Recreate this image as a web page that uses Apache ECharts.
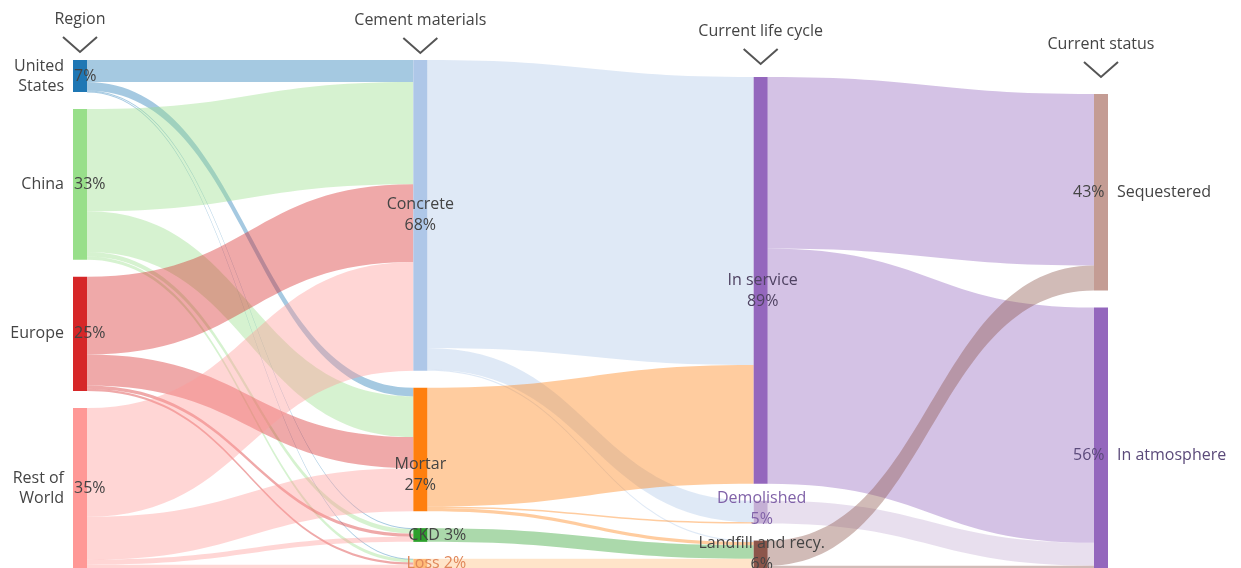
<!DOCTYPE html>
<html>
<head>
<meta charset="utf-8">
<script src="https://cdn.jsdelivr.net/npm/echarts@6/dist/echarts.min.js"></script>
<style>
  html, body { margin: 0; padding: 0; background: #fff; }
  #chart { width: 1241px; height: 568px; }
</style>
</head>
<body>
<div id="chart"></div>
<script>
// columns of the diagram
var columnTitles = ['Region', 'Cement materials', 'Current life cycle', 'Current status'];

var regions = ['United States', 'China', 'Europe', 'Rest of World'];
var regionNames = ['United\nStates', 'China', 'Europe', 'Rest of\nWorld'];
var regionShares = ['7%', '33%', '25%', '35%'];

var materials = ['Concrete', 'Mortar', 'CKD', 'Loss'];
var materialShares = ['68%', '27%', '3%', '2%'];

var lifeCycles = ['In service', 'Demolished', 'Landfill and recy.'];
var lifeShares = ['89%', '5%', '6%'];

var statuses = ['Sequestered', 'In atmosphere'];
var statusShares = ['43%', '56%'];

// flows, in % of total; rows = source, columns = target
var regionToMaterial = [
  [4.8, 1.9, 0.2, 0.1],
  [22.4, 8.9, 1.0, 0.7],
  [17.0, 6.8, 0.7, 0.5],
  [23.8, 9.4, 1.1, 0.7]
];
var materialToLife = [
  [63.0, 4.7, 0.3],
  [26.0, 0.3, 0.7],
  [0, 0, 3.0],
  [0, 0, 2.0]
];
var lifeToStatus = [
  [37.5, 51.5],
  [0, 5.0],
  [5.5, 0.5]
];

var nodeColors = {
  'United States': '#1f77b4', 'China': '#98df8a', 'Europe': '#d62728', 'Rest of World': '#ff9896',
  'Concrete': '#aec7e8', 'Mortar': '#ff7f0e', 'CKD': '#2ca02c', 'Loss': '#ffbb78',
  'In service': '#9467bd', 'Demolished': '#c5b0d5', 'Landfill and recy.': '#8c564b',
  'Sequestered': '#c49c94', 'In atmosphere': '#9467bd'
};
var labelColors = {
  'Demolished': '#8062a8', 'Loss': '#e0875a', 'In atmosphere': '#5b4a7a', 'In service': '#4f4262'
};
var labelOffsets = {
  'Mortar': [0, 25], 'CKD': [17, 0], 'Loss': [16, 0],
  'In service': [2, 11], 'Demolished': [1, -3], 'Landfill and recy.': [1, 0],
  'Sequestered': [-21, 0], 'In atmosphere': [-21, 18]
};

var FONT = '"Open Sans", "Noto Sans", sans-serif';

var nodes = [];
function addNodes(names, shares, kind) {
  names.forEach(function (n, i) {
    var lbl;
    if (kind === 'region') {
      lbl = { position: 'insideLeft', distance: 1, formatter: shares[i] };
    } else if (kind === 'status') {
      lbl = { position: 'insideLeft', distance: 0, formatter: shares[i] + '   ' + n };
    } else if (n === 'CKD' || n === 'Loss') {
      lbl = { position: 'inside', formatter: n + ' ' + shares[i] };
    } else {
      lbl = { position: 'inside', formatter: n + '\n' + shares[i] };
    }
    lbl.offset = labelOffsets[n] || [0, 0];
    lbl.color = labelColors[n] || '#444';
    nodes.push({ name: n, itemStyle: { color: nodeColors[n] }, label: lbl });
  });
}
addNodes(regions, regionShares, 'region');
addNodes(materials, materialShares, 'mid');
addNodes(lifeCycles, lifeShares, 'mid');
addNodes(statuses, statusShares, 'status');

var links = [];
function addLinks(src, dst, table) {
  table.forEach(function (row, i) {
    row.forEach(function (v, j) {
      if (v > 0) links.push({ source: src[i], target: dst[j], value: v });
    });
  });
}
addLinks(regions, materials, regionToMaterial);
addLinks(materials, lifeCycles, materialToLife);
addLinks(lifeCycles, statuses, lifeToStatus);

var chart = echarts.init(document.getElementById('chart'));
chart.setOption({
  animation: false,
  textStyle: { fontFamily: FONT },
  series: [{
    type: 'sankey',
    left: 73,
    right: 133,
    top: 60,
    bottom: 0,
    nodeWidth: 14,
    nodeGap: 17,
    layoutIterations: 0,
    draggable: false,
    emphasis: { disabled: true },
    itemStyle: { borderWidth: 0 },
    lineStyle: { color: 'source', opacity: 0.4, curveness: 0.5 },
    label: { fontSize: 16, fontFamily: FONT, lineHeight: 21, color: '#444' },
    data: nodes,
    links: links
  }]
});

// columns sit on the bottom edge; headers, chevrons and region names follow the layout
var headerLift = [41, 40, 46, 50];
try {
  var seriesModel = chart.getModel().getSeriesByIndex(0);
  var box = seriesModel.layoutInfo;
  var data = seriesModel.getData();
  var colBottom = {};
  data.each(function (idx) {
    var l = data.getItemLayout(idx);
    colBottom[l.depth] = Math.max(colBottom[l.depth] || 0, l.y + l.dy);
  });
  var cols = {};
  var graphics = [];
  data.each(function (idx) {
    var l = data.getItemLayout(idx);
    var name = data.getName(idx);
    var d = l.depth;
    var y = l.y + (box.height - colBottom[d]);
    nodes[idx].localY = y / box.height;
    if (!cols[d] || y < cols[d].y) cols[d] = { y: y, x: l.x, dx: l.dx };
    var ri = regions.indexOf(name);
    if (ri >= 0) {
      graphics.push({
        type: 'text',
        x: box.x + l.x - 9,
        y: box.y + y + l.dy / 2,
        style: {
          text: regionNames[ri], fill: '#444', font: '16px ' + FONT,
          align: 'right', verticalAlign: 'middle', lineHeight: 20
        }
      });
    }
  });
  Object.keys(cols).forEach(function (d) {
    var c = cols[d];
    var cx = box.x + c.x + c.dx / 2;
    var top = box.y + c.y;
    graphics.push({
      type: 'text', x: cx, y: top - headerLift[d],
      style: { text: columnTitles[d], fill: '#444', font: '16px ' + FONT, align: 'center', verticalAlign: 'middle' }
    });
    graphics.push({
      type: 'polyline',
      shape: { points: [[cx - 17, top - headerLift[d] + 18], [cx, top - headerLift[d] + 33], [cx + 17, top - headerLift[d] + 18]] },
      style: { stroke: '#555', lineWidth: 2, fill: null }
    });
  });
  chart.setOption({ series: [{ data: nodes }], graphic: graphics });
} catch (e) {
  console.error(e);
}
</script>
</body>
</html>
